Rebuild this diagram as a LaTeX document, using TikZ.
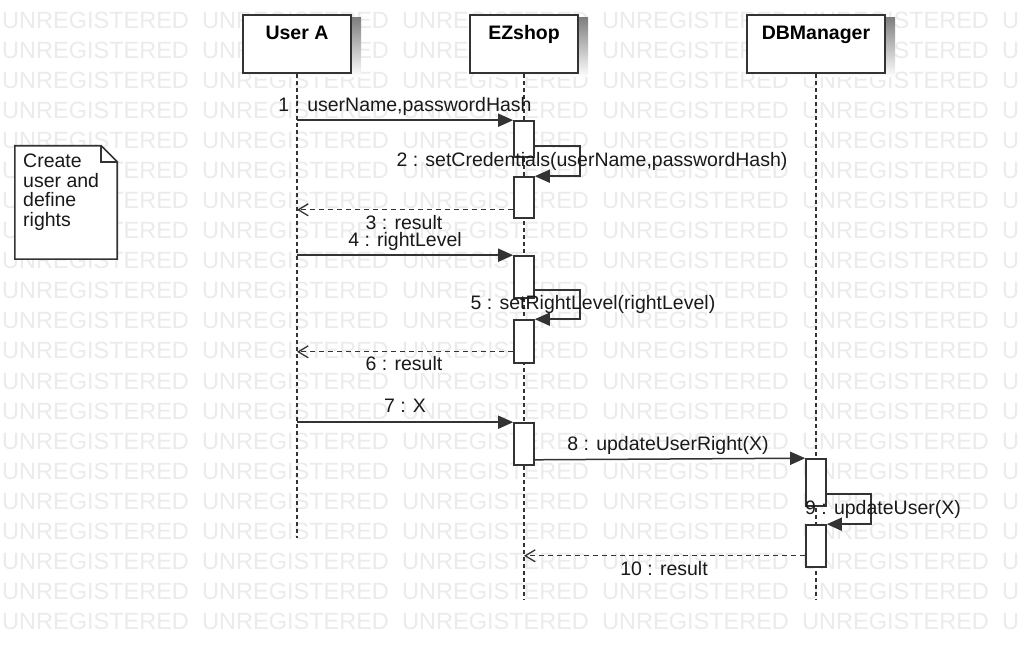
\documentclass[tikz,border=0pt]{standalone}
\usepackage{fontspec}
\setmainfont{Liberation Sans}
\usetikzlibrary{arrows.meta}
\definecolor{ink}{HTML}{333333}
\definecolor{wm}{HTML}{EBEBEB}
\definecolor{shade}{HTML}{F5F5F5}
\tikzset{
  wmtext/.style={font=\fontsize{23.5}{26}\selectfont, text=wm, inner sep=0pt, anchor=base west},
  actor/.style={draw=ink, line width=1.6pt, fill=white, inner sep=0pt,
    text height=25pt, text depth=33pt, anchor=base,
    font=\bfseries\fontsize{19.5}{22}\selectfont, text=black},
  act/.style={draw=ink, line width=1.6pt, fill=white, minimum width=20pt, inner sep=0pt},
  life/.style={draw=ink, line width=1.2pt, dash pattern=on 4pt off 3pt},
  msg/.style={draw=ink, line width=1.5pt, -{Triangle[length=15pt,width=13pt]}},
  ret/.style={draw=ink, line width=1.3pt, dash pattern=on 5pt off 4pt,
    -{Straight Barb[length=10pt,width=12pt]}},
  lbl/.style={font=\fontsize{19.5}{22}\selectfont, text=black!90, inner sep=0pt, anchor=base},
  notebox/.style={draw=ink, line width=1.6pt, fill=white, line join=miter},
  notetext/.style={font=\fontsize{19.5}{19.4}\selectfont, text=black!90, inner sep=0pt,
    anchor=north west, align=left},
}
\begin{document}
\begin{tikzpicture}[x=1pt,y=-1pt]
\useasboundingbox (0,0) rectangle (1018,660);
\fill[white] (0,0) rectangle (1018,660);
% watermark
\begin{scope}
\clip (0,0) rectangle (1018,660);
\foreach \r in {0,...,20}{
  \foreach \c in {0,...,5}{
    \node[wmtext] (wm-\r-\c) at (2+200*\c, 29+30*\r) {UNREGISTERED};
  }
}
\end{scope}
% faint shadows of the lifeline heads
\fill[shade] (253,18) rectangle (361,77);
\fill[shade] (480,18) rectangle (588,77);
\fill[shade] (757,18) rectangle (895,77);
% lifeline heads
\node[actor, minimum width=108pt] (ua) at (297,40) {User A};
\node[actor, minimum width=108pt] (ez) at (524,40) {EZshop};
\node[actor, minimum width=138pt] (db) at (816,40) {DBManager};
% lifelines
\coordinate (uaend) at (297,538);
\coordinate (ezend) at (524,600);
\coordinate (dbend) at (816,600);
\draw[life] (ua.south) -- (uaend);
\draw[life] (ez.south) -- (ezend);
\draw[life] (db.south) -- (dbend);
% activations
\node[act, minimum height=36pt] (e1) at (524,139) {};
\node[act, minimum height=41pt] (e2) at (524,197.5) {};
\node[act, minimum height=42pt] (e3) at (524,277) {};
\node[act, minimum height=43pt] (e4) at (524,341.5) {};
\node[act, minimum height=42pt] (e5) at (524,444) {};
\node[act, minimum height=47pt] (d1) at (816,482.5) {};
\node[act, minimum height=42pt] (d2) at (816,546) {};
% note
\node[minimum width=102pt, minimum height=113pt, inner sep=0pt] (nt) at (66,202.5) {};
\draw[notebox] (nt.north west) -- ([xshift=-16pt]nt.north east) -- ([yshift=-16pt]nt.north east)
  -- (nt.south east) -- (nt.south west) -- cycle;
\draw[draw=ink, line width=1.6pt] ([xshift=-16pt]nt.north east) |- ([yshift=-16pt]nt.north east);
\node[notetext] (ntx) at (23,154) {Create\\user and\\define\\rights};
% messages
\draw[msg] (ua |- e1.north) -- (e1.north west);
\draw[msg] ([yshift=-26pt]e1.north east) -- ++(45,0) |- (e2.north east);
\coordinate (r3) at ([yshift=9pt]e2.south west);
\draw[ret] (r3) -- (r3 -| ua);
\draw[msg] (ua |- e3.north) -- (e3.north west);
\draw[msg] ([yshift=-35pt]e3.north east) -- ++(45,0) |- (e4.north east);
\coordinate (r6) at ([yshift=12pt]e4.south west);
\draw[ret] (r6) -- (r6 -| ua);
\draw[msg] (ua |- e5.north) -- (e5.north west);
\draw[msg] ([yshift=6pt]e5.south east) -- (d1.north west);
\draw[msg] ([yshift=-36pt]d1.north east) -- ++(44,0) |- (d2.north east);
\coordinate (r10) at ([yshift=12pt]d2.south west);
\draw[ret] (r10) -- (r10 -| ez);
% labels
\node[lbl] (l1) at (405,112) {1 : userName,passwordHash};
\node[lbl] (l2) at (592,167) {2 : setCredentials(userName,passwordHash)};
\node[lbl] (l3) at (404,230) {3 : result};
\node[lbl] (l4) at (405,247) {4 : rightLevel};
\node[lbl] (l5) at (593,310) {5 : setRightLevel(rightLevel)};
\node[lbl] (l6) at (404,371) {6 : result};
\node[lbl] (l7) at (405,413) {7 : X};
\node[lbl] (l8) at (668,450) {8 : updateUserRight(X)};
\node[lbl] (l9) at (883,514) {9 : updateUser(X)};
\node[lbl] (l10) at (664,575) {10 : result};
\end{tikzpicture}
\end{document}
